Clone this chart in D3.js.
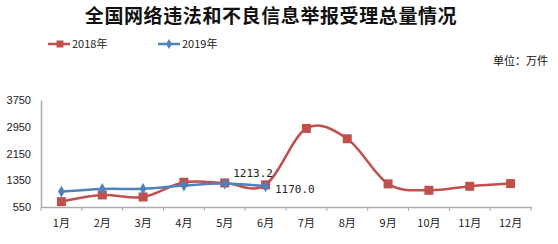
<!DOCTYPE html>
<html><head><meta charset="utf-8">
<script src="https://cdn.jsdelivr.net/npm/d3@7"></script>
<style>
body{margin:0;background:#fff;}
text{font-family:"Noto Sans CJK SC","Noto Sans",sans-serif;}
</style>
</head><body>
<svg id="c" width="558" height="244"></svg>
<script>
const months = ["1月","2月","3月","4月","5月","6月","7月","8月","9月","10月","11月","12月"];
const values2018 = [710, 910, 850, 1290, 1270, 1213.2, 2900, 2590, 1240, 1050, 1170, 1250];
const values2019 = [1010, 1090, 1095, 1190, 1250, 1170.0];
const yTicks = [550, 1350, 2150, 2950, 3750];
const labels = [{series: 2018, index: 5, text: "1213.2"}, {series: 2019, index: 5, text: "1170.0"}];

(function(){
const svg = d3.select("#c");
const red = "#C0504D", blue = "#4F81BD";
const pl = 41, pr = 531, pt = 100, pb = 207;

const x = d3.scaleBand().domain(months).range([pl, pr]);
const y = d3.scaleLinear().domain([550, 3750]).range([pb, pt]);

svg.append("text").attr("x", 271).attr("y", 22.5).attr("text-anchor", "middle")
  .style("font-size", "19px").style("letter-spacing", "0.6px").style("font-weight", "bold").attr("fill", "#111")
  .text("全国网络违法和不良信息举报受理总量情况");

// legend
const lg = svg.append("g");
lg.append("line").attr("x1", 48).attr("x2", 70).attr("y1", 44).attr("y2", 44).attr("stroke", red).attr("stroke-width", 2.5);
lg.append("rect").attr("x", 56.5).attr("y", 40.5).attr("width", 7).attr("height", 7).attr("fill", red);
lg.append("text").attr("x", 72).attr("y", 48).style("font-size", "11px").attr("fill", "#222").text("2018年");
lg.append("line").attr("x1", 158).attr("x2", 180).attr("y1", 44).attr("y2", 44).attr("stroke", blue).attr("stroke-width", 2.5);
lg.append("path").attr("d", d3.symbol(d3.symbolDiamond, 30)()).attr("transform", "translate(169,44)").attr("fill", blue);
lg.append("text").attr("x", 182).attr("y", 48).style("font-size", "11px").attr("fill", "#222").text("2019年");

svg.append("text").attr("x", 548).attr("y", 65).attr("text-anchor", "end")
  .style("font-size", "11px").attr("fill", "#111").text("单位：万件");

// y axis
const ya = svg.append("g").attr("transform", `translate(${pl},0)`)
  .call(d3.axisLeft(y).tickValues(yTicks).tickSize(0).tickPadding(10).tickFormat(d3.format("d")));
ya.select(".domain").attr("stroke", "#aaa").attr("stroke-width", 1.5);
ya.selectAll("text").style("font-size", "11px").attr("fill", "#222").style("font-family", "\"Liberation Sans\",sans-serif");

// x axis
const xa = svg.append("g").attr("transform", `translate(0,${pb})`)
  .call(d3.axisBottom(x).tickSize(0).tickPadding(12));
xa.select(".domain").attr("stroke", "#aaa").attr("stroke-width", 1.5);
xa.selectAll("text").style("font-size", "11px").attr("fill", "#222");
const bounds = months.map(m => x(m)).concat([pr]);
xa.selectAll(".sep").data(bounds).enter().append("line")
  .attr("x1", d => d).attr("x2", d => d).attr("y1", 0).attr("y2", 4)
  .attr("stroke", "#aaa").attr("stroke-width", 1);

const cx = i => x(months[i]) + x.bandwidth() / 2;
const line = d3.line().x((d, i) => cx(i)).y(d => y(d)).curve(d3.curveCardinal.tension(0));

svg.append("path").datum(values2018).attr("d", line).attr("fill", "none").attr("stroke", red).attr("stroke-width", 2.5);
svg.selectAll(".m18").data(values2018).enter().append("rect")
  .attr("x", (d, i) => cx(i) - 4.5).attr("y", d => y(d) - 4.5).attr("width", 9).attr("height", 9).attr("fill", red);

svg.append("path").datum(values2019).attr("d", line).attr("fill", "none").attr("stroke", blue).attr("stroke-width", 2.5);
svg.selectAll(".m19").data(values2019).enter().append("path")
  .attr("d", d3.symbol(d3.symbolDiamond, 40)())
  .attr("transform", (d, i) => `translate(${cx(i)},${y(d)})`).attr("fill", blue);

// data labels
svg.append("text").attr("x", 273).attr("y", 177).attr("text-anchor", "end")
  .style("font-size", "11px").attr("fill", "#222").style("font-family", "\"DejaVu Sans Mono\",monospace").text(labels[0].text);
svg.append("text").attr("x", 275).attr("y", 193).attr("text-anchor", "start")
  .style("font-size", "11px").attr("fill", "#222").style("font-family", "\"DejaVu Sans Mono\",monospace").text(labels[1].text);
})();
</script>
</body></html>
